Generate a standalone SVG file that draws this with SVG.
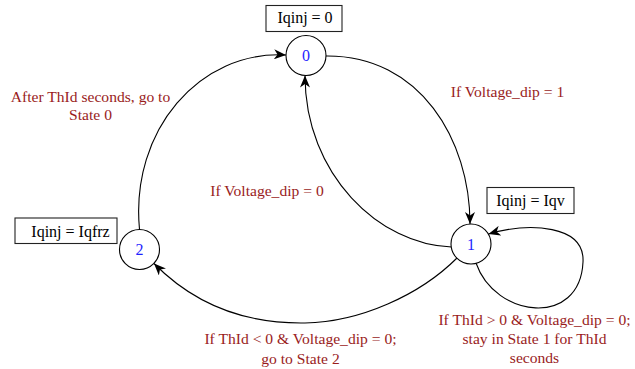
<svg xmlns="http://www.w3.org/2000/svg" width="635" height="369" viewBox="0 0 635 369">
<style>
.node{fill:#fff;stroke:#000;stroke-width:1.1}
.num{font-family:"Liberation Serif",serif;font-size:16px;fill:#1f1fff;text-anchor:middle}
.box{fill:#fff;stroke:#222;stroke-width:1.1}
.bt{font-family:"Liberation Serif",serif;font-size:16px;fill:#000;text-anchor:middle}
.lbl{font-family:"Liberation Serif",serif;font-size:15.6px;fill:#991c1c;text-anchor:middle}
.edge{fill:none;stroke:#000;stroke-width:1.1;marker-end:url(#arr)}
</style>
<defs>
<marker id="arr" viewBox="0 0 12 10" refX="12" refY="5" markerWidth="12" markerHeight="10" markerUnits="userSpaceOnUse" orient="auto">
<path d="M0,0 L12,5 L0,10 L3.5,5 z" fill="#000"/>
</marker>
</defs>
<g id="connectors">
<path class="edge" d="M326 56 C420 55, 470 140, 470 224"/>
<path class="edge" d="M451.5 247 C380 245, 305 175, 305 75.5"/>
<path class="edge" d="M457 258 C420 295, 360 322, 305 323 C240 324, 190 300, 154 263.5"/>
<path class="edge" d="M139.5 229.5 C130 130, 200 50, 286 55"/>
<path class="edge" d="M476 263 C495 318, 580 328, 583 262 C585 225, 530 222, 488.5 234"/>
</g>
<g id="node0">
<circle class="node" cx="306" cy="55.5" r="20"/>
<text class="num" x="306" y="61">0</text>
</g>
<g id="node1">
<circle class="node" cx="471" cy="244" r="20"/>
<text class="num" x="471" y="249.5">1</text>
</g>
<g id="node2">
<circle class="node" cx="139.5" cy="249.5" r="20"/>
<text class="num" x="139.5" y="255">2</text>
</g>
<g id="box0">
<rect class="box" x="266" y="5.5" width="76" height="26"/>
<text class="bt" x="305" y="23">Iqinj = 0</text>
</g>
<g id="box1">
<rect class="box" x="487" y="187.5" width="87" height="26"/>
<text class="bt" x="530.5" y="206">Iqinj = Iqv</text>
</g>
<g id="box2">
<rect class="box" x="15" y="218" width="102" height="25.5"/>
<text class="bt" x="70.5" y="236.5">Iqinj = Iqfrz</text>
</g>
<g id="labels">
<text class="lbl" x="90.5" y="101.5">After ThId seconds, go to</text>
<text class="lbl" x="90.5" y="120">State 0</text>
<text class="lbl" x="507.5" y="97">If Voltage_dip = 1</text>
<text class="lbl" x="267" y="196">If Voltage_dip = 0</text>
<text class="lbl" x="300.5" y="344">If ThId &lt; 0 &amp; Voltage_dip = 0;</text>
<text class="lbl" x="300.5" y="363.5">go to State 2</text>
<text class="lbl" x="534.5" y="324.5">If ThId &gt; 0 &amp; Voltage_dip = 0;</text>
<text class="lbl" x="534.5" y="344">stay in State 1 for ThId</text>
<text class="lbl" x="534.5" y="362.5">seconds</text>
</g>
</svg>
